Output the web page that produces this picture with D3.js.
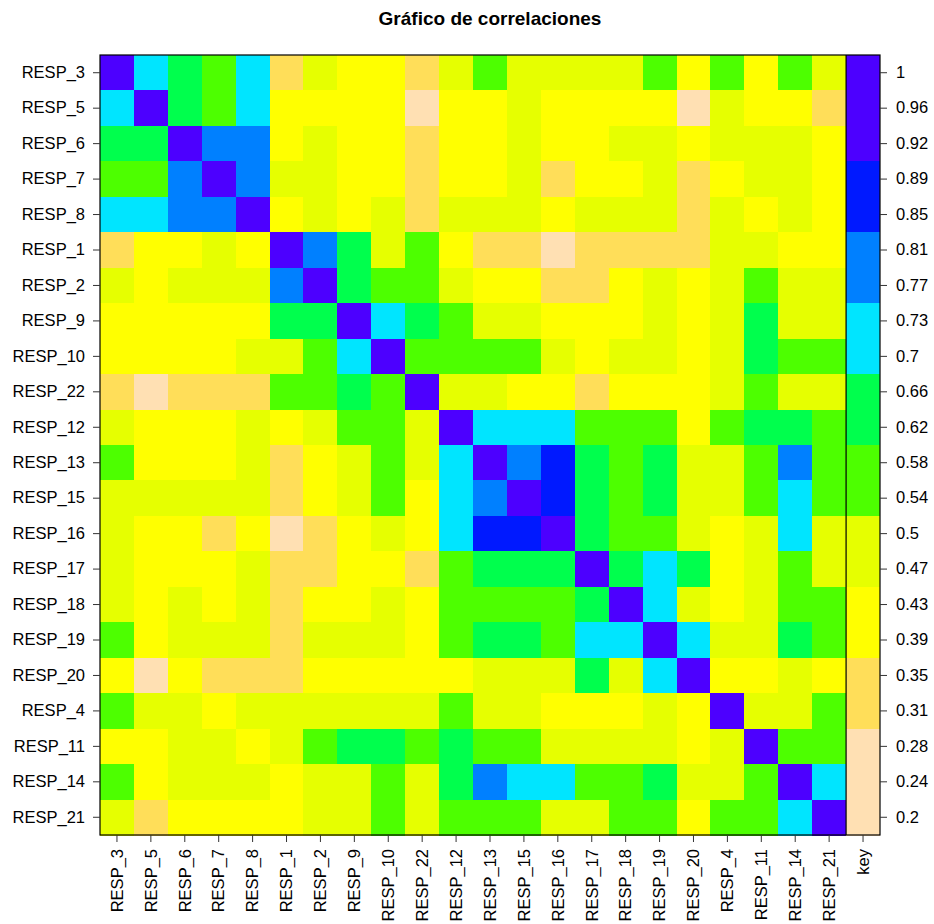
<!DOCTYPE html>
<html>
<head>
<meta charset="utf-8">
<script src="https://cdn.jsdelivr.net/npm/d3@7"></script>
<style>
  body { margin: 0; background: #ffffff; }
</style>
</head>
<body>
<svg id="chart" width="934" height="924"></svg>
<script>
// orden de las variables (filas de arriba a abajo, columnas de izquierda a derecha)
const variables = ["RESP_3", "RESP_5", "RESP_6", "RESP_7", "RESP_8", "RESP_1", "RESP_2", "RESP_9",
    "RESP_10", "RESP_22", "RESP_12", "RESP_13", "RESP_15", "RESP_16", "RESP_17", "RESP_18",
    "RESP_19", "RESP_20", "RESP_4", "RESP_11", "RESP_14", "RESP_21"];

// correlaciones estimadas a partir del color de cada celda
const correlaciones = [
    [1, .72, .64, .56, .72, .32, .48, .40, .40, .32, .48, .56, .48, .48, .48, .48, .56, .40, .56, .40, .56, .48],
    [.72, 1, .64, .56, .72, .40, .40, .40, .40, .24, .40, .40, .48, .40, .40, .40, .40, .24, .48, .40, .40, .32],
    [.64, .64, 1, .80, .80, .40, .48, .40, .40, .32, .40, .40, .48, .40, .40, .48, .48, .40, .48, .48, .48, .40],
    [.56, .56, .80, 1, .80, .48, .48, .40, .40, .32, .40, .40, .48, .32, .40, .40, .48, .32, .40, .48, .48, .40],
    [.72, .72, .80, .80, 1, .40, .48, .40, .48, .32, .48, .48, .48, .40, .48, .48, .48, .32, .48, .40, .48, .40],
    [.32, .40, .40, .48, .40, 1, .80, .64, .48, .56, .40, .32, .32, .24, .32, .32, .32, .32, .48, .48, .40, .40],
    [.48, .40, .48, .48, .48, .80, 1, .64, .56, .56, .48, .40, .40, .32, .32, .40, .48, .40, .48, .56, .48, .48],
    [.40, .40, .40, .40, .40, .64, .64, 1, .72, .64, .56, .48, .48, .40, .40, .40, .48, .40, .48, .64, .48, .48],
    [.40, .40, .40, .40, .48, .48, .56, .72, 1, .56, .56, .56, .56, .48, .40, .48, .48, .40, .48, .64, .56, .56],
    [.32, .24, .32, .32, .32, .56, .56, .64, .56, 1, .48, .48, .40, .40, .32, .40, .40, .40, .48, .56, .48, .48],
    [.48, .40, .40, .40, .48, .40, .48, .56, .56, .48, 1, .72, .72, .72, .56, .56, .56, .40, .56, .64, .64, .56],
    [.56, .40, .40, .40, .48, .32, .40, .48, .56, .48, .72, 1, .80, .88, .64, .56, .64, .48, .48, .56, .80, .56],
    [.48, .48, .48, .48, .48, .32, .40, .48, .56, .40, .72, .80, 1, .88, .64, .56, .64, .48, .48, .56, .72, .56],
    [.48, .40, .40, .32, .40, .24, .32, .40, .48, .40, .72, .88, .88, 1, .64, .56, .56, .48, .40, .48, .72, .48],
    [.48, .40, .40, .40, .48, .32, .32, .40, .40, .32, .56, .64, .64, .64, 1, .64, .72, .64, .40, .48, .56, .48],
    [.48, .40, .48, .40, .48, .32, .40, .40, .48, .40, .56, .56, .56, .56, .64, 1, .72, .48, .40, .48, .56, .56],
    [.56, .40, .48, .48, .48, .32, .48, .48, .48, .40, .56, .64, .64, .56, .72, .72, 1, .72, .48, .48, .64, .56],
    [.40, .24, .40, .32, .32, .32, .40, .40, .40, .40, .40, .48, .48, .48, .64, .48, .72, 1, .40, .40, .48, .40],
    [.56, .48, .48, .40, .48, .48, .48, .48, .48, .48, .56, .48, .48, .40, .40, .40, .48, .40, 1, .48, .48, .56],
    [.40, .40, .48, .48, .40, .48, .56, .64, .64, .56, .64, .56, .56, .48, .48, .48, .48, .40, .48, 1, .56, .56],
    [.56, .40, .48, .48, .48, .40, .48, .48, .56, .48, .64, .80, .72, .72, .56, .56, .64, .48, .48, .56, 1, .72],
    [.48, .32, .40, .40, .40, .40, .48, .48, .56, .48, .56, .56, .56, .48, .48, .56, .56, .40, .56, .56, .72, 1]
];

// leyenda (key)
const keyValues = [1, 0.9619, 0.9238, 0.8857, 0.8476, 0.8095, 0.7714, 0.7333, 0.6952, 0.6571, 0.619,
    0.581, 0.5429, 0.5048, 0.4667, 0.4286, 0.3905, 0.3524, 0.3143, 0.2762, 0.2381, 0.2];
const keyLabels = ["1", "0.96", "0.92", "0.89", "0.85", "0.81", "0.77", "0.73", "0.7", "0.66", "0.62",
    "0.58", "0.54", "0.5", "0.47", "0.43", "0.39", "0.35", "0.31", "0.28", "0.24", "0.2"];

const cortes = [0.28, 0.36, 0.44, 0.52, 0.60, 0.68, 0.76, 0.84, 0.92];
const colores = ["#FFE0B3", "#FFDE59", "#FFFF00", "#E6FF00", "#4DFF00", "#00FF4D",
    "#00E5FF", "#0080FF", "#0019FF", "#4C00FF"];

const titulo = "Gráfico de correlaciones";

const fuente = "'Liberation Sans', Arial, Helvetica, sans-serif";
const plot = { left: 100, right: 880, top: 55, bottom: 835 };

const svg = d3.select("#chart");

const color = d3.scaleThreshold().domain(cortes).range(colores);

const x = d3.scaleBand()
    .domain([...variables, "key"])
    .range([plot.left, plot.right]);

const y = d3.scaleBand()
    .domain(variables)
    .range([plot.top, plot.bottom]);

const yKey = d3.scaleBand()
    .domain(keyLabels)
    .range([plot.top, plot.bottom]);

// titulo
svg.append("text")
    .attr("x", (plot.left + plot.right) / 2)
    .attr("y", 25)
    .attr("text-anchor", "middle")
    .style("font-family", fuente)
    .style("font-size", "19px")
    .style("font-weight", "bold")
    .text(titulo);

// celdas
const celdas = correlaciones.flatMap((fila, i) =>
    fila.map((valor, j) => ({ fila: variables[i], col: variables[j], valor })));

svg.append("g")
    .attr("shape-rendering", "crispEdges")
    .selectAll("rect")
    .data(celdas)
    .enter()
    .append("rect")
    .attr("x", d => x(d.col))
    .attr("y", d => y(d.fila))
    .attr("width", x.bandwidth() + 0.5)
    .attr("height", y.bandwidth() + 0.5)
    .style("fill", d => color(d.valor));

// columna key
svg.append("g")
    .attr("shape-rendering", "crispEdges")
    .selectAll("rect")
    .data(keyValues.map((v, i) => ({ v, label: keyLabels[i] })))
    .enter()
    .append("rect")
    .attr("x", x("key"))
    .attr("y", d => yKey(d.label))
    .attr("width", x.bandwidth())
    .attr("height", yKey.bandwidth() + 0.5)
    .style("fill", d => color(d.v));

// bordes
svg.append("rect")
    .attr("x", plot.left)
    .attr("y", plot.top)
    .attr("width", plot.right - plot.left)
    .attr("height", plot.bottom - plot.top)
    .attr("fill", "none")
    .attr("stroke", "#000")
    .attr("stroke-width", 1.2);

svg.append("line")
    .attr("x1", x("key"))
    .attr("x2", x("key"))
    .attr("y1", plot.top)
    .attr("y2", plot.bottom)
    .attr("stroke", "#000")
    .attr("stroke-width", 1.2);

function estiloEje(g) {
    g.select(".domain").remove();
    g.attr("font-family", fuente).attr("font-size", 16.5);
    g.selectAll("line").attr("stroke", "#333");
    g.selectAll("text").attr("fill", "#000");
}

// eje izquierdo
svg.append("g")
    .attr("transform", `translate(${plot.left},0)`)
    .call(d3.axisLeft(y).tickSize(7).tickPadding(8))
    .call(estiloEje);

// eje derecho (key)
svg.append("g")
    .attr("transform", `translate(${plot.right},0)`)
    .call(d3.axisRight(yKey).tickSize(7).tickPadding(9))
    .call(estiloEje);

// eje inferior con etiquetas verticales
svg.append("g")
    .attr("transform", `translate(0,${plot.bottom})`)
    .call(d3.axisBottom(x).tickSize(7).tickPadding(7))
    .call(estiloEje)
    .selectAll("text")
    .attr("transform", "rotate(-90)")
    .attr("x", -14)
    .attr("y", 0)
    .attr("dy", "0.35em")
    .attr("text-anchor", "end");
</script>
</body>
</html>
